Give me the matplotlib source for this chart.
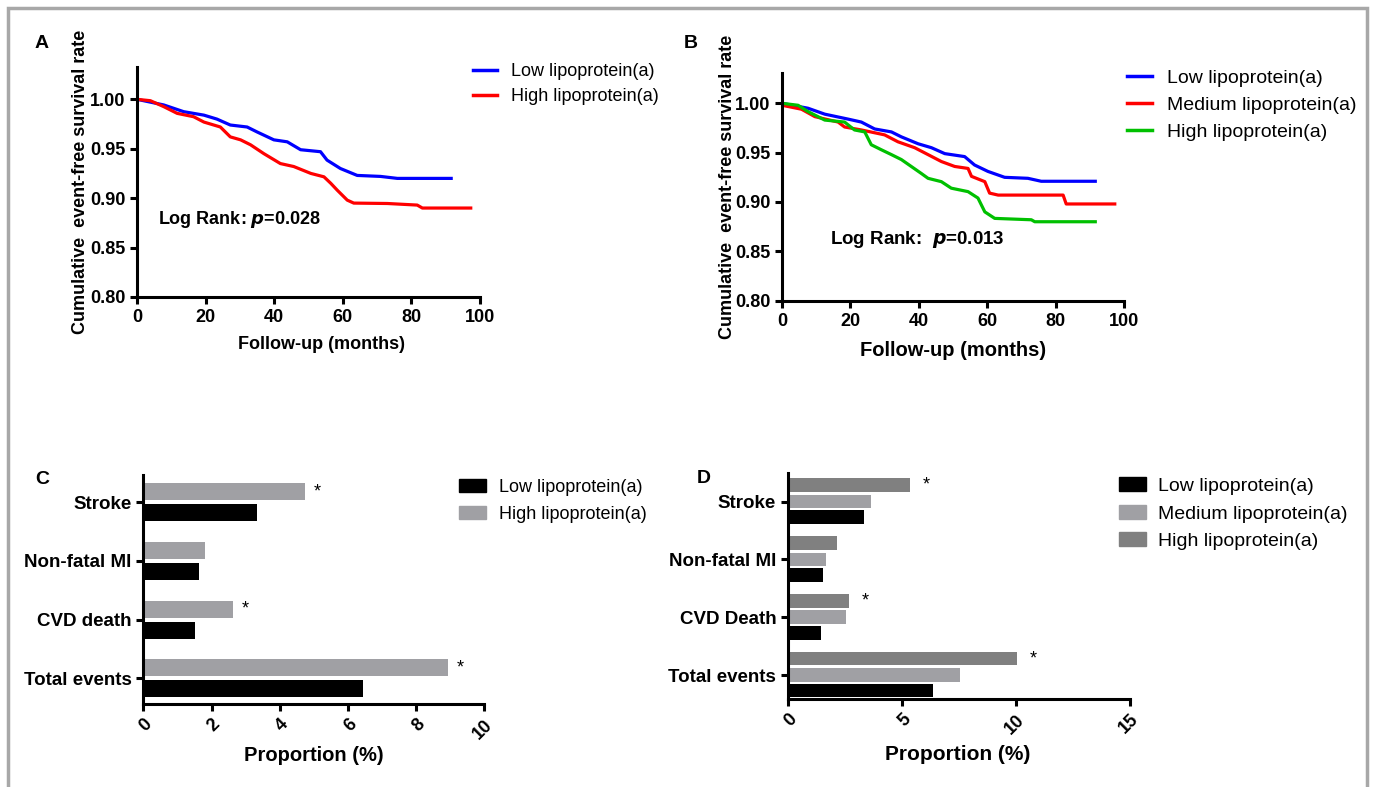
import matplotlib.pyplot as plt
from matplotlib.patches import Patch, Rectangle
from matplotlib.lines import Line2D

plt.rcParams['font.family'] = ['Liberation Sans', 'DejaVu Sans']
plt.rcParams['font.weight'] = 'bold'
plt.rcParams['axes.labelweight'] = 'bold'

# ---- data ----
# Panel A: Kaplan-Meier, two groups
a_low_t = [0, 7.8, 13.6, 19.5, 23.3, 27.2, 32.1, 35.0, 39.9, 43.8, 47.7, 53.5, 55.4, 59.3, 64.2, 71.0, 75.9, 91.6]
a_low_s = [1.000, 0.9943, 0.9875, 0.984, 0.980, 0.974, 0.972, 0.967, 0.959, 0.957, 0.949, 0.947, 0.9385, 0.930, 0.923, 0.922, 0.920, 0.920]
a_high_t = [0, 3.9, 7.8, 11.7, 16.5, 19.5, 24.3, 27.2, 30.2, 33.1, 37.0, 41.8, 45.7, 50.7, 54.5, 56.5, 58.4, 61.3, 63.2, 73.0, 81.7, 83.2, 97.3]
a_high_s = [1.000, 0.9986, 0.9926, 0.9858, 0.9824, 0.977, 0.972, 0.962, 0.959, 0.954, 0.945, 0.935, 0.932, 0.925, 0.9216, 0.915, 0.908, 0.898, 0.895, 0.8946, 0.893, 0.890, 0.890]

# Panel B: Kaplan-Meier, three groups
b_low_t = [0, 7.6, 12.5, 19.3, 23.2, 27.1, 32.0, 34.9, 39.8, 43.7, 47.6, 53.4, 56.3, 60.2, 65.1, 71.9, 75.8, 91.6]
b_low_s = [1.000, 0.995, 0.989, 0.984, 0.981, 0.974, 0.971, 0.966, 0.959, 0.955, 0.949, 0.946, 0.9375, 0.931, 0.925, 0.924, 0.921, 0.921]
b_med_t = [0, 5.7, 9.6, 16.4, 18.3, 23.2, 30.0, 33.9, 38.8, 42.7, 46.6, 50.5, 54.4, 55.4, 59.3, 60.7, 63.2, 82.2, 83.1, 97.3]
b_med_s = [0.998, 0.994, 0.9865, 0.981, 0.976, 0.973, 0.968, 0.961, 0.955, 0.948, 0.941, 0.936, 0.934, 0.926, 0.9206, 0.909, 0.907, 0.907, 0.898, 0.898]
b_high_t = [0, 4.7, 7.6, 12.5, 18.3, 21.2, 24.2, 26.1, 29.0, 32.0, 34.9, 37.8, 40.7, 42.7, 46.6, 49.5, 54.4, 57.3, 59.3, 62.2, 72.9, 73.9, 91.6]
b_high_s = [1.000, 0.998, 0.9916, 0.983, 0.981, 0.973, 0.971, 0.958, 0.953, 0.948, 0.943, 0.936, 0.929, 0.924, 0.9206, 0.914, 0.9105, 0.904, 0.890, 0.8834, 0.882, 0.880, 0.880]

# Panel C: proportions (%)
c_cats = ['Stroke', 'Non-fatal MI', 'CVD death', 'Total events']
c_low = [3.32, 1.63, 1.53, 6.43]
c_high = [4.74, 1.82, 2.63, 8.93]
c_star = [True, False, True, True]

# Panel D: proportions (%)
d_cats = ['Stroke', 'Non-fatal MI', 'CVD Death', 'Total events']
d_low = [3.35, 1.55, 1.46, 6.36]
d_med = [3.64, 1.65, 2.56, 7.56]
d_high = [5.35, 2.15, 2.66, 10.04]
d_star = [True, False, True, True]

W, H = 1374, 787
fig = plt.figure(figsize=(W / 100, H / 100), dpi=100)


def px_axes(x0, y0, x1, y1):
    # pixel box (left, top, right, bottom) -> axes
    return fig.add_axes([x0 / W, 1 - y1 / H, (x1 - x0) / W, (y1 - y0) / H])


def style(ax):
    for s in ['top', 'right']:
        ax.spines[s].set_visible(False)
    for s in ['left', 'bottom']:
        ax.spines[s].set_linewidth(2.2)
    ax.tick_params(width=2.2, length=5, labelsize=13)


def rotate_xticks(ax):
    for lab in ax.get_xticklabels():
        lab.set_rotation(45)
        lab.set_ha('right')
        lab.set_va('top')
        lab.set_rotation_mode('anchor')


# frame around the whole figure
fig.patches.append(Rectangle((8 / W, -0.05), (1359 / W), 1.05 - 8 / H, transform=fig.transFigure,
                             fill=False, edgecolor='#a8a8a8', linewidth=2.5))

# ---- A ----
axA = px_axes(137, 67, 480, 297)
style(axA)
axA.plot(a_low_t, a_low_s, color='#0000ff', lw=2.3)
axA.plot(a_high_t, a_high_s, color='#ff0000', lw=2.3)
axA.set_xlim(0, 100)
axA.set_ylim(0.80, 1.0327)
axA.set_xticks([0, 20, 40, 60, 80, 100])
axA.set_yticks([0.80, 0.85, 0.90, 0.95, 1.00])
axA.set_yticklabels(['0.80', '0.85', '0.90', '0.95', '1.00'])
axA.set_xlabel('Follow-up (months)', fontsize=13)
axA.xaxis.set_label_coords(0.537, -0.17)
axA.set_ylabel('Cumulative  event-free survival rate', fontsize=13)
axA.yaxis.set_label_coords(-0.14, 0.5)
axA.text(6.1, 0.878, 'Log Rank: $\\boldsymbol{p}$=0.028', fontsize=13, va='center')
axA.legend(handles=[Line2D([], [], color='#0000ff', lw=2.5), Line2D([], [], color='#ff0000', lw=2.5)],
           labels=['Low lipoprotein(a)', 'High lipoprotein(a)'],
           loc='upper left', bbox_to_anchor=(473 / W, 1 - 63 / H), bbox_transform=fig.transFigure,
           frameon=False, borderpad=0, borderaxespad=0, handlelength=1.35, handletextpad=0.75,
           labelspacing=0.45, prop={'weight': 'normal', 'size': 13})
fig.text(35 / W, 1 - 43 / H, 'A', fontsize=14, va='center')

# ---- B ----
axB = px_axes(782, 72.7, 1124, 300.7)
style(axB)
axB.plot(b_low_t, b_low_s, color='#0000ff', lw=2.3)
axB.plot(b_med_t, b_med_s, color='#ff0000', lw=2.3)
axB.plot(b_high_t, b_high_s, color='#00c000', lw=2.3)
axB.set_xlim(0, 100)
axB.set_ylim(0.80, 1.031)
axB.set_xticks([0, 20, 40, 60, 80, 100])
axB.set_yticks([0.80, 0.85, 0.90, 0.95, 1.00])
axB.set_yticklabels(['0.80', '0.85', '0.90', '0.95', '1.00'])
axB.set_xlabel('Follow-up (months)', fontsize=14.5)
axB.xaxis.set_label_coords(0.5, -0.175)
axB.set_ylabel('Cumulative  event-free survival rate', fontsize=13)
axB.yaxis.set_label_coords(-0.135, 0.5)
axB.text(14, 0.8625, 'Log Rank:  $\\boldsymbol{p}$=0.013', fontsize=13.5, va='center')
axB.legend(handles=[Line2D([], [], color=c, lw=2.5) for c in ['#0000ff', '#ff0000', '#00c000']],
           labels=['Low lipoprotein(a)', 'Medium lipoprotein(a)', 'High lipoprotein(a)'],
           loc='upper left', bbox_to_anchor=(1127 / W, 1 - 69 / H), bbox_transform=fig.transFigure,
           frameon=False, borderpad=0, borderaxespad=0, handlelength=1.3, handletextpad=0.75,
           labelspacing=0.5, prop={'weight': 'normal', 'size': 14})
fig.text(684 / W, 1 - 43 / H, 'B', fontsize=14, va='center')

# ---- C ----
axC = px_axes(143.3, 475, 484.3, 704.3)
style(axC)
yc = [3 - i for i in range(len(c_cats))]
bh = 0.29
axC.barh([y + 0.18 for y in yc], c_high, height=bh, color='#a0a0a4')
axC.barh([y - 0.18 for y in yc], c_low, height=bh, color='black')
for y, v, s in zip(yc, c_high, c_star):
    if s:
        axC.text(v + 0.25, y + 0.18, '*', fontsize=13, va='center', weight='normal')
axC.set_xlim(0, 10)
axC.set_ylim(-0.443, 3.465)
axC.set_yticks(yc)
axC.set_yticklabels(c_cats, fontsize=13.5)
axC.set_xticks([0, 2, 4, 6, 8, 10])
rotate_xticks(axC)
axC.set_xlabel('Proportion (%)', fontsize=14.5)
axC.xaxis.set_label_coords(0.499, -0.18)
axC.legend(handles=[Patch(color='black'), Patch(color='#a0a0a4')],
           labels=['Low lipoprotein(a)', 'High lipoprotein(a)'],
           loc='upper left', bbox_to_anchor=(459 / W, 1 - 479 / H), bbox_transform=fig.transFigure,
           frameon=False, borderpad=0, borderaxespad=0, handlelength=1.5, handleheight=0.75,
           handletextpad=0.7, labelspacing=0.55, prop={'weight': 'normal', 'size': 13})
fig.text(35 / W, 1 - 480 / H, 'C', fontsize=14, va='center')

# ---- D ----
axD = px_axes(788, 472.7, 1130, 699.3)
style(axD)
yd = [3 - i for i in range(len(d_cats))]
bh = 0.235
axD.barh([y + 0.285 for y in yd], d_high, height=bh, color='#808080')
axD.barh(yd, d_med, height=bh, color='#a0a0a4')
axD.barh([y - 0.27 for y in yd], d_low, height=bh, color='black')
for y, v, s in zip(yd, d_high, d_star):
    if s:
        axD.text(v + 0.55, y + 0.285, '*', fontsize=13, va='center', weight='normal')
axD.set_xlim(0, 15)
axD.set_ylim(-0.42, 3.50)
axD.set_yticks(yd)
axD.set_yticklabels(d_cats, fontsize=13.5)
axD.set_xticks([0, 5, 10, 15])
rotate_xticks(axD)
axD.set_xlabel('Proportion (%)', fontsize=15)
axD.xaxis.set_label_coords(0.497, -0.2)
axD.legend(handles=[Patch(color='black'), Patch(color='#a0a0a4'), Patch(color='#808080')],
           labels=['Low lipoprotein(a)', 'Medium lipoprotein(a)', 'High lipoprotein(a)'],
           loc='upper left', bbox_to_anchor=(1119 / W, 1 - 477 / H), bbox_transform=fig.transFigure,
           frameon=False, borderpad=0, borderaxespad=0, handlelength=1.4, handleheight=0.75,
           handletextpad=0.6, labelspacing=0.5, prop={'weight': 'normal', 'size': 14})
fig.text(697 / W, 1 - 478 / H, 'D', fontsize=14, va='center')

fig.savefig('out.png', dpi=100)
